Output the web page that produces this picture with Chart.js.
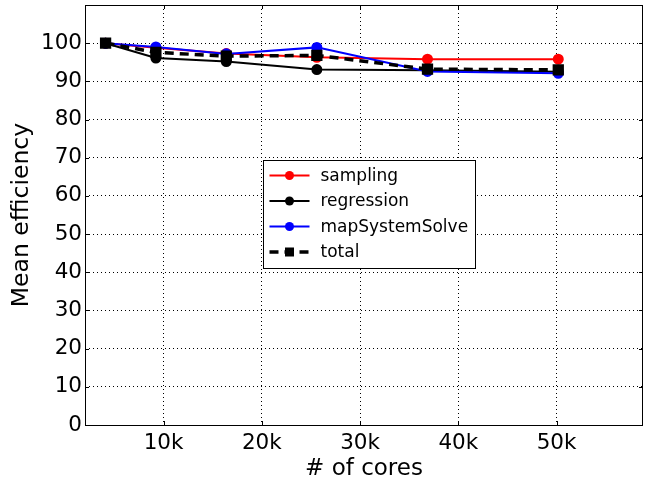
<!DOCTYPE html>
<html>
<head>
<meta charset="utf-8">
<script src="https://cdn.jsdelivr.net/npm/chart.js@4/dist/chart.umd.min.js"></script>
<style>
  html, body { margin: 0; padding: 0; background: #fff; }
  #wrap { width: 645px; height: 483px; }
</style>
</head>
<body>
<div id="wrap"><canvas id="effChart" width="645" height="483"></canvas></div>
<script>
const cores = [4096, 9216, 16384, 25600, 36864, 50176];
const sampling = [100, 98.8, 97.3, 96.3, 95.8, 95.8];
const regression = [100, 96.1, 95.2, 93.1, 92.9, 92.5];
const mapSystemSolve = [100, 99.0, 97.2, 98.9, 92.6, 92.1];
const total = [100, 97.6, 96.6, 96.8, 93.2, 93.0];
const xTicks = [10000, 20000, 30000, 40000, 50000];
const yTicks = [0, 10, 20, 30, 40, 50, 60, 70, 80, 90, 100];

const FONT = 'DejaVu Sans';

function pts(vals) {
    return cores.map((c, i) => ({ x: c, y: vals[i] }));
}

// frame around plot area, inward tick marks, legend box inside the plot
const framePlugin = {
    id: 'frame',
    afterDatasetsDraw(chart) {
        const { ctx, chartArea: a, scales } = chart;
        ctx.save();
        ctx.strokeStyle = '#000';
        ctx.lineWidth = 1;
        ctx.strokeRect(a.left + 0.5, a.top + 0.5, a.right - a.left - 1, a.bottom - a.top);

        const tl = 4;
        ctx.beginPath();
        xTicks.forEach(v => {
            const px = Math.round(scales.x.getPixelForValue(v)) + 0.5;
            ctx.moveTo(px, a.bottom); ctx.lineTo(px, a.bottom - tl);
            ctx.moveTo(px, a.top); ctx.lineTo(px, a.top + tl);
        });
        yTicks.forEach(v => {
            const py = Math.round(scales.y.getPixelForValue(v)) + 0.5;
            ctx.moveTo(a.left, py); ctx.lineTo(a.left + tl, py);
            ctx.moveTo(a.right, py); ctx.lineTo(a.right - tl, py);
        });
        ctx.stroke();

        // legend
        const x0 = 263.5, y0 = 160.5, w = 212, h = 108;
        ctx.fillStyle = '#fff';
        ctx.fillRect(x0, y0, w, h);
        ctx.strokeRect(x0, y0, w, h);
        ctx.font = '17px ' + FONT;
        ctx.textBaseline = 'middle';
        chart.data.datasets.forEach((ds, i) => {
            const y = y0 + 15 + i * 25.5;
            ctx.strokeStyle = ds.borderColor;
            ctx.lineWidth = ds.borderWidth;
            ctx.setLineDash(ds.borderDash || []);
            ctx.beginPath();
            ctx.moveTo(x0 + 6, y);
            ctx.lineTo(x0 + 46, y);
            ctx.stroke();
            ctx.setLineDash([]);
            ctx.fillStyle = ds.pointBackgroundColor;
            if (ds.pointStyle === 'rect') {
                ctx.fillRect(x0 + 26 - 4.5, y - 4.5, 9, 9);
            } else {
                ctx.beginPath();
                ctx.arc(x0 + 26, y, 4.5, 0, Math.PI * 2);
                ctx.fill();
            }
            ctx.fillStyle = '#000';
            ctx.fillText(ds.label, x0 + 57, y + 1);
        });
        ctx.restore();
    }
};

new Chart(document.getElementById('effChart'), {
    type: 'line',
    data: {
        datasets: [
            { label: 'sampling', data: pts(sampling), borderColor: '#ff0000', pointBackgroundColor: '#ff0000',
              pointBorderColor: '#ff0000', borderWidth: 2, pointRadius: 4.5, order: 3 },
            { label: 'regression', data: pts(regression), borderColor: '#000000', pointBackgroundColor: '#000000',
              pointBorderColor: '#000000', borderWidth: 2, pointRadius: 4.5, order: 2 },
            { label: 'mapSystemSolve', data: pts(mapSystemSolve), borderColor: '#0000ff', pointBackgroundColor: '#0000ff',
              pointBorderColor: '#0000ff', borderWidth: 2, pointRadius: 4.5, order: 1 },
            { label: 'total', data: pts(total), borderColor: '#000000', pointBackgroundColor: '#000000',
              pointBorderColor: '#000000', borderWidth: 3.5, borderDash: [9, 6], pointStyle: 'rect',
              pointRadius: 5.5, order: 0 }
        ]
    },
    options: {
        responsive: false,
        animation: false,
        layout: { autoPadding: false, padding: { top: 5, right: 2, left: 0, bottom: 0 } },
        plugins: { legend: { display: false }, tooltip: { enabled: false } },
        elements: { line: { tension: 0, fill: false } },
        scales: {
            x: {
                type: 'linear',
                min: 2000,
                max: 58800,
                afterBuildTicks(axis) { axis.ticks = xTicks.map(v => ({ value: v })); },
                afterFit(axis) { axis.height = 58; axis.paddingLeft = 0; axis.paddingRight = 0; },
                ticks: {
                    color: '#000',
                    font: { family: FONT, size: 21.5 },
                    padding: 6,
                    maxRotation: 0,
                    callback: v => (v / 1000) + 'k'
                },
                grid: { color: '#000', lineWidth: 1, drawTicks: false },
                border: { display: false, dash: [1, 3] },
                title: { display: true, text: '# of cores', color: '#000', font: { family: FONT, size: 23 }, padding: { top: 2, bottom: 0 } }
            },
            y: {
                min: 0,
                max: 110,
                afterBuildTicks(axis) { axis.ticks = yTicks.map(v => ({ value: v })); },
                afterFit(axis) { axis.width = 85; axis.paddingTop = 0; axis.paddingBottom = 0; },
                ticks: {
                    color: '#000',
                    font: { family: FONT, size: 21.5 },
                    padding: 3
                },
                grid: { color: '#000', lineWidth: 1, drawTicks: false },
                border: { display: false, dash: [1, 3] },
                title: { display: true, text: 'Mean efficiency', color: '#000', font: { family: FONT, size: 23.5 }, padding: { top: 8, bottom: 2 } }
            }
        }
    },
    plugins: [framePlugin]
});
</script>
</body>
</html>
